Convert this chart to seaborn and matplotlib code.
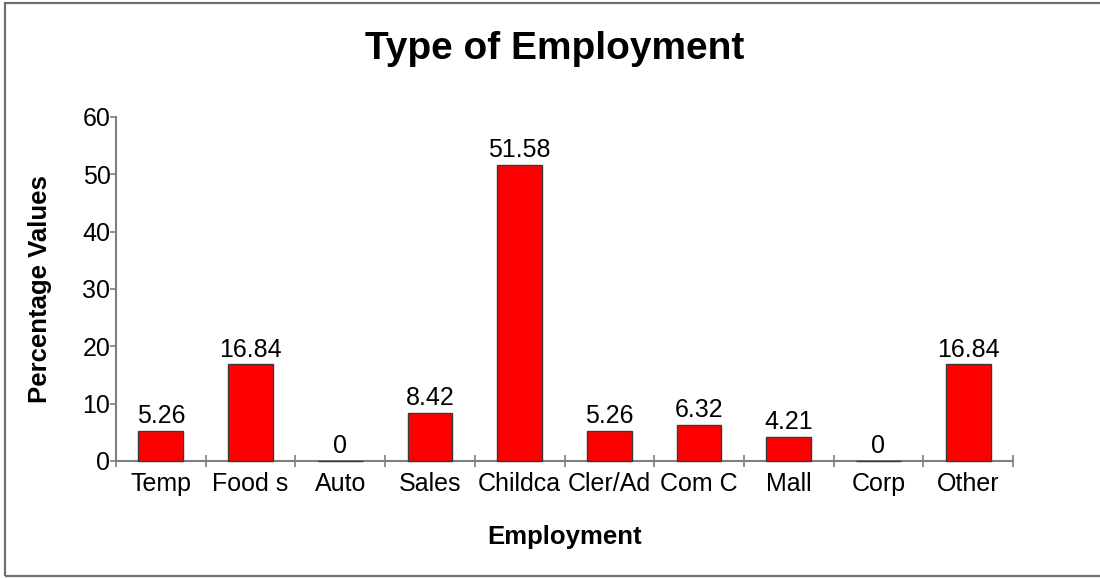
import matplotlib
matplotlib.use("Agg")
import matplotlib.pyplot as plt
from matplotlib.patches import Rectangle
import seaborn as sns
import pandas as pd
import numpy as np

categories = ["Temp", "Food s", "Auto", "Sales", "Childca", "Cler/Ad",
              "Com C", "Mall", "Corp", "Other"]
percentages = [5.26, 16.84, 0, 8.42, 51.58, 5.26, 6.32, 4.21, 0, 16.84]
y_ticks = [0, 10, 20, 30, 40, 50, 60]

sns.set_theme(style="white")
plt.rcParams["font.family"] = ["Liberation Sans", "DejaVu Sans"]
plt.rcParams["text.color"] = "black"
plt.rcParams["axes.labelcolor"] = "black"

df = pd.DataFrame({"Employment": categories, "Percentage": percentages})

fig = plt.figure(figsize=(11, 5.79), dpi=100)
ax = fig.add_axes([116 / 1100, 1 - 461 / 579, (1013 - 116) / 1100, (461 - 117) / 579])

sns.barplot(data=df, x="Employment", y="Percentage", color="#ff0000",
            width=0.5, edgecolor="#3a3a3a", linewidth=1.0, saturation=1,
            ax=ax)
for bar in ax.containers[0]:
    bar.set_zorder(3)
    bar.set_clip_on(False)

labels = [f"{v:g}" for v in percentages]
ax.bar_label(ax.containers[0], labels=labels, padding=2, fontsize=18,
             color="black")

axis_grey = "#7f7f7f"
ax.set_ylim(0, 60)
ax.set_xlim(-0.5, len(categories) - 0.5)
ax.set_yticks(y_ticks)
ax.set_xticks(np.arange(len(categories)))
ax.set_xticklabels(categories)
ax.set_xticks(np.arange(len(categories) + 1) - 0.5, minor=True)

ax.tick_params(axis="x", which="major", length=0, pad=8, labelsize=18,
               labelcolor="black")
ax.tick_params(axis="x", which="minor", direction="inout", length=9,
               width=1.2, color=axis_grey, bottom=True)
ax.tick_params(axis="y", which="major", direction="out", length=4,
               width=1.2, color=axis_grey, left=True, pad=0, labelsize=18,
               labelcolor="black")

for side in ("top", "right"):
    ax.spines[side].set_visible(False)
for side in ("left", "bottom"):
    ax.spines[side].set_color(axis_grey)
    ax.spines[side].set_linewidth(1.5)

ax.set_xlabel("Employment", fontsize=18.5, fontweight="bold")
ax.xaxis.set_label_coords(0.5, -(537 - 461) / 344)
ax.xaxis.label.set_va("center")
ax.set_ylabel("Percentage Values", fontsize=18.5, fontweight="bold")
ax.yaxis.set_label_coords(-(116 - 40) / 897, 0.5)
ax.yaxis.label.set_va("center")

fig.text(555 / 1100, 1 - 49 / 579, "Type of Employment", ha="center",
         va="center", fontsize=28, fontweight="bold")

fig.patches.append(Rectangle((5 / 1100, 1 - 576 / 579), 1.2, 573 / 579,
                             transform=fig.transFigure, fill=False,
                             edgecolor="#6e6e6e", linewidth=1.6,
                             clip_on=False))

fig.savefig("out.png", dpi=100, facecolor="white")
